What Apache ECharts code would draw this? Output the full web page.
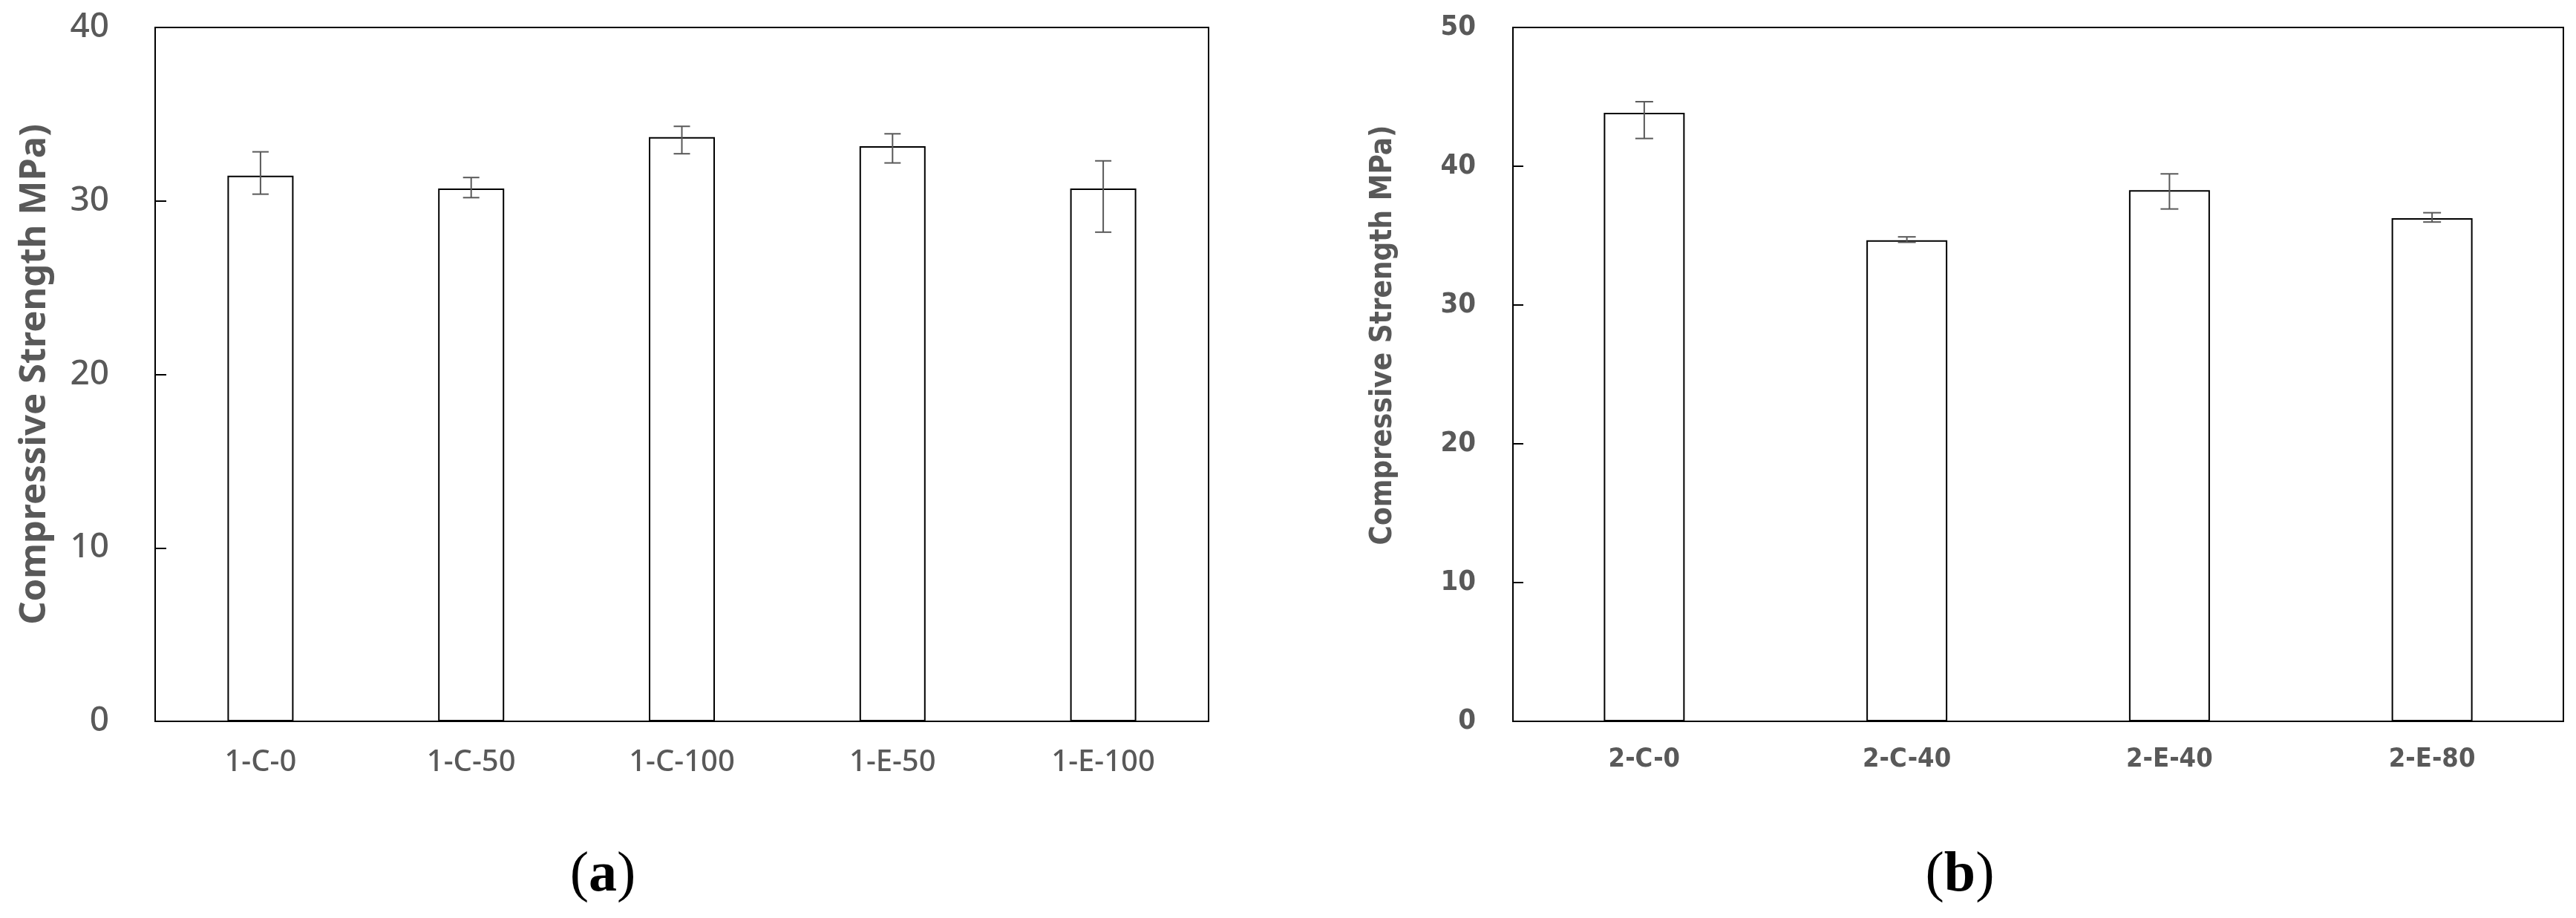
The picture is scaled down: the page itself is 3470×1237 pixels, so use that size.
<!DOCTYPE html>
<html>
<head>
<meta charset="utf-8">
<script src="https://cdn.jsdelivr.net/npm/echarts@6/dist/echarts.min.js"></script>
<style>
  html, body { margin: 0; padding: 0; background: #fff; }
  #main { width: 3470px; height: 1237px; }
</style>
</head>
<body>
<div id="main"></div>
<script>
// (a) series 1
var cats1 = ['1-C-0', '1-C-50', '1-C-100', '1-E-50', '1-E-100'];
var means1 = [31.45, 30.72, 33.68, 33.15, 30.72];
var errTop1 = [32.83, 31.35, 34.30, 33.87, 32.31];
var errBottom1 = [30.39, 30.19, 32.72, 32.19, 28.20];
var ticks1 = [0, 10, 20, 30, 40];

// (b) series 2
var cats2 = ['2-C-0', '2-C-40', '2-E-40', '2-E-80'];
var means2 = [43.85, 34.66, 38.27, 36.26];
var errTop2 = [44.65, 34.91, 39.45, 36.65];
var errBottom2 = [42.00, 34.52, 36.92, 35.98];
var ticks2 = [0, 10, 20, 30, 40, 50];

var yName = 'Compressive Strength MPa)';
var grey = '#595959';
var narrow = "'DejaVu Sans Condensed', 'DejaVu Sans', sans-serif";

function errData(lo, hi) {
    return lo.map(function (v, i) { return [i, v, hi[i]]; });
}

function errRender(cap) {
    return function (params, api) {
        var lo = api.coord([api.value(0), api.value(1)]);
        var hi = api.coord([api.value(0), api.value(2)]);
        var style = { stroke: grey, lineWidth: 2 };
        return {
            type: 'group',
            children: [
                { type: 'line', shape: { x1: lo[0], y1: lo[1], x2: hi[0], y2: hi[1] }, style: style },
                { type: 'line', shape: { x1: hi[0] - cap, y1: hi[1], x2: hi[0] + cap, y2: hi[1] }, style: style },
                { type: 'line', shape: { x1: lo[0] - cap, y1: lo[1], x2: lo[0] + cap, y2: lo[1] }, style: style }
            ]
        };
    };
}

var chart = echarts.init(document.getElementById('main'));
chart.setOption({
    backgroundColor: '#fff',
    animation: false,
    grid: [
        { left: 209, right: 1842, top: 37, bottom: 265, show: true, borderColor: '#000', borderWidth: 2 },
        { left: 2038, right: 17, top: 37, bottom: 265, show: true, borderColor: '#000', borderWidth: 2 }
    ],
    xAxis: [{
        gridIndex: 0,
        type: 'category',
        data: cats1,
        axisLine: { lineStyle: { color: '#000', width: 2 } },
        axisTick: { show: false },
        axisLabel: { color: grey, fontSize: 40, fontWeight: 500, fontFamily: 'Noto Sans', margin: 36 }
    }, {
        gridIndex: 1,
        type: 'category',
        data: cats2,
        axisLine: { lineStyle: { color: '#000', width: 2 } },
        axisTick: { show: false },
        axisLabel: { color: grey, fontSize: 36, fontWeight: 'bold', fontFamily: narrow, margin: 34 }
    }],
    yAxis: [{
        gridIndex: 0,
        type: 'value',
        min: ticks1[0],
        max: ticks1[ticks1.length - 1],
        interval: 10,
        name: yName,
        nameLocation: 'middle',
        nameGap: 137,
        nameTextStyle: { color: grey, fontSize: 49, fontWeight: 'bold', fontFamily: 'Noto Sans' },
        axisLine: { show: true, lineStyle: { color: '#000', width: 2 } },
        axisTick: { show: true, inside: true, length: 15, lineStyle: { color: '#000', width: 2 } },
        splitLine: { show: false },
        axisLabel: { color: grey, fontSize: 46, fontWeight: 500, fontFamily: 'Noto Sans', margin: 62 }
    }, {
        gridIndex: 1,
        type: 'value',
        min: ticks2[0],
        max: ticks2[ticks2.length - 1],
        interval: 10,
        name: yName,
        nameLocation: 'middle',
        nameGap: 154,
        nameTextStyle: {
            color: grey, fontSize: 40, fontWeight: 'bold', fontFamily: narrow,
            padding: [0, 0, 0, 106]
        },
        axisLine: { show: true, lineStyle: { color: '#000', width: 2 } },
        axisTick: { show: true, inside: true, length: 14, lineStyle: { color: '#000', width: 2 } },
        splitLine: { show: false },
        axisLabel: { color: grey, fontSize: 38, fontWeight: 'bold', fontFamily: narrow, margin: 50 }
    }],
    series: [{
        type: 'bar',
        xAxisIndex: 0,
        yAxisIndex: 0,
        data: means1,
        barWidth: 89,
        itemStyle: { color: '#fff', borderColor: '#000', borderWidth: 2 }
    }, {
        type: 'custom',
        xAxisIndex: 0,
        yAxisIndex: 0,
        data: errData(errBottom1, errTop1),
        encode: { x: 0, y: [1, 2] },
        renderItem: errRender(11),
        z: 5
    }, {
        type: 'bar',
        xAxisIndex: 1,
        yAxisIndex: 1,
        data: means2,
        barWidth: 109,
        itemStyle: { color: '#fff', borderColor: '#000', borderWidth: 2 }
    }, {
        type: 'custom',
        xAxisIndex: 1,
        yAxisIndex: 1,
        data: errData(errBottom2, errTop2),
        encode: { x: 0, y: [1, 2] },
        renderItem: errRender(12),
        z: 5
    }],
    graphic: [{
        type: 'text',
        x: 812,
        y: 1180,
        style: {
            text: '{n|(}{b|a}{n|)}',
            align: 'center',
            verticalAlign: 'middle',
            rich: {
                n: { fontFamily: 'Liberation Serif', fontSize: 76, fill: '#000' },
                b: { fontFamily: 'Liberation Serif', fontSize: 76, fontWeight: 'bold', fill: '#000' }
            }
        }
    }, {
        type: 'text',
        x: 2640,
        y: 1180,
        style: {
            text: '{n|(}{b|b}{n|)}',
            align: 'center',
            verticalAlign: 'middle',
            rich: {
                n: { fontFamily: 'Liberation Serif', fontSize: 76, fill: '#000' },
                b: { fontFamily: 'Liberation Serif', fontSize: 76, fontWeight: 'bold', fill: '#000' }
            }
        }
    }]
});
</script>
</body>
</html>
